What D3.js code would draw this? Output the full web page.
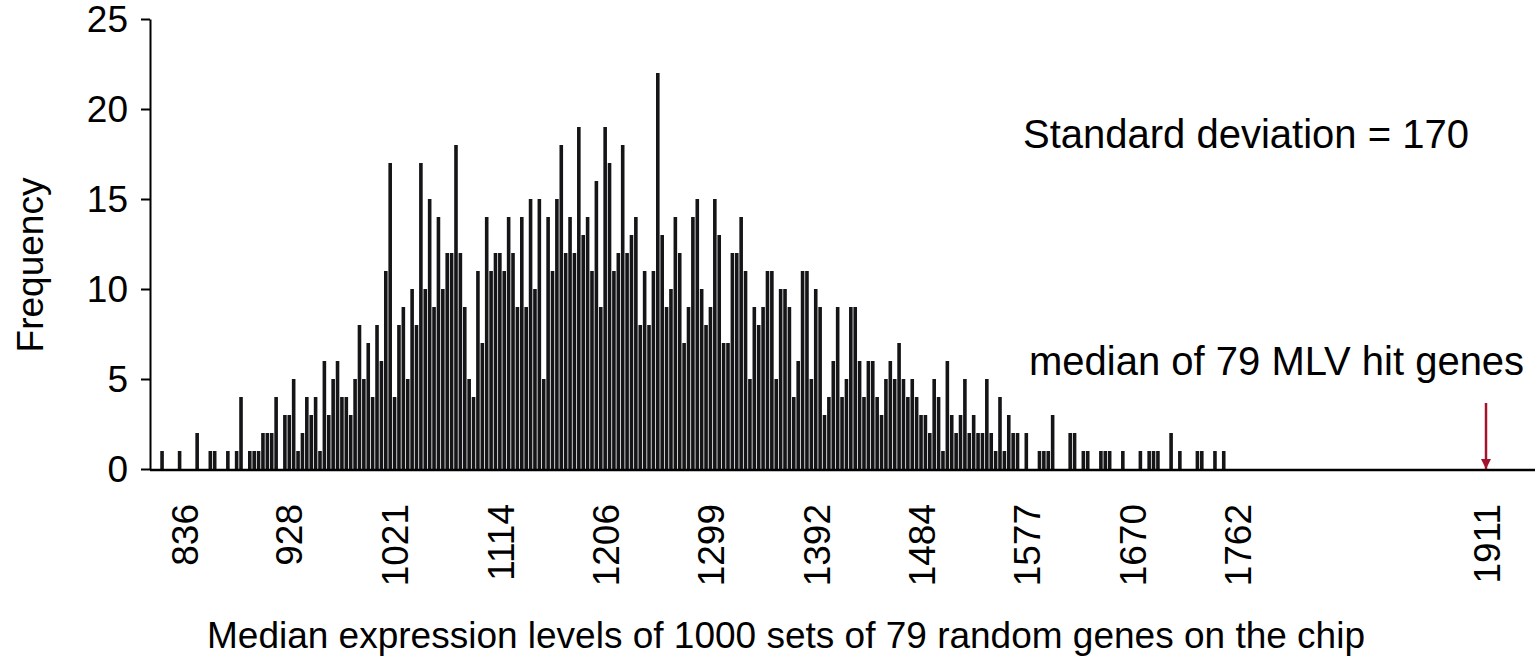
<!DOCTYPE html>
<html>
<head>
<meta charset="utf-8">
<script src="https://cdn.jsdelivr.net/npm/d3@7"></script>
<style>
  body { margin: 0; background: #fff; }
  svg text { font-family: "Liberation Sans", Arial, sans-serif; fill: #000; }
</style>
</head>
<body>
<div class="chart"></div>
<script>
// histogram counts, one per bin, left to right
var counts = [
  1,0,0,0,1,0,0,0,2,0,0,1,1,0,0,1,0,1,4,0,
  1,1,1,2,2,2,4,0,3,3,5,1,2,4,3,4,1,6,3,5,
  6,4,4,3,5,8,5,7,4,8,6,11,17,4,8,9,5,10,8,17,
  10,15,9,14,10,12,12,18,12,9,5,4,11,7,14,11,12,12,11,14,
  12,9,14,9,15,10,15,5,14,11,15,18,12,14,12,19,13,14,11,16,
  9,19,17,11,12,18,12,13,14,8,11,8,11,22,13,9,10,14,12,7,
  9,14,15,10,8,9,15,13,7,7,12,12,14,11,5,9,8,9,11,11,
  5,10,10,9,4,6,11,11,5,10,9,3,4,6,9,4,5,9,9,6,
  4,6,6,4,3,5,6,5,7,5,4,5,4,3,3,2,5,4,1,6,
  3,2,3,5,2,3,2,2,5,2,1,4,1,3,2,2,0,2,0,0,
  1,1,1,3,0,0,0,2,2,0,1,1,0,0,1,1,1,0,0,1,
  0,0,0,1,0,1,1,1,0,0,2,0,1,0,0,0,1,1,0,0,
  1,0,1
];
var binStart = 816.7;
var binWidth = 3.858;
var xTickLabels = [836, 928, 1021, 1114, 1206, 1299, 1392, 1484, 1577, 1670, 1762, 1911];
var yTickLabels = [0, 5, 10, 15, 20, 25];
var hitMedian = 1911;
var sdText = 'Standard deviation = 170';
var hitText = 'median of 79 MLV hit genes';
var xTitle = 'Median expression levels of 1000 sets of 79 random genes on the chip';
var yTitle = 'Frequency';

var margin = {top: 19, right: 0, bottom: 189, left: 150};
var width = 1535 - margin.left - margin.right;
var height = 658 - margin.top - margin.bottom;
var fontSize = 37;

var bins = counts.map(function(c, i) {
    return {value: binStart + i * binWidth, count: c};
});

// axis is stretched past 1762 in the original, so piecewise
var xScale = d3.scaleLinear()
    .domain([836, 1762, 1911])
    .range([34, 1087, 1336]);

var yScale = d3.scaleLinear()
    .domain([0, 25])
    .range([height, 0]);

var barWidth = (xScale(binStart + binWidth) - xScale(binStart)) * 0.82;

var svg = d3.select('.chart').append('svg')
    .attr('width', 1535)
    .attr('height', 658)
    .append('g')
    .attr('transform', `translate(${margin.left},${margin.top})`);

function drawBars(el) {
    el.append('g')
        .attr('class', 'bars-g')
        .selectAll('.bar')
        .data(bins.filter(d => d.count > 0))
        .enter().append('rect')
        .attr('class', 'bar')
        .attr('x', d => xScale(d.value) - barWidth / 2)
        .attr('y', d => yScale(d.count))
        .attr('width', barWidth)
        .attr('height', d => yScale(0) - yScale(d.count))
        .style('fill', '#151518');
}

function drawYAxis(el) {
    var axis = el.append('g')
        .attr('class', 'axis axis--y')
        .call(d3.axisLeft(yScale)
            .tickValues(yTickLabels)
            .tickSize(9)
            .tickSizeOuter(0)
            .tickPadding(13));
    axis.select('.domain').attr('stroke-width', 2);
    axis.selectAll('line').attr('stroke-width', 2);
    axis.selectAll('text')
        .style('font-size', fontSize + 'px')
        .attr('dy', '0.35em');
}

function drawXAxis(el) {
    el.append('line')
        .attr('x1', 0)
        .attr('x2', width)
        .attr('y1', height + 1)
        .attr('y2', height + 1)
        .attr('stroke', '#000')
        .attr('stroke-width', 2.5);

    var axis = el.append('g')
        .attr('class', 'axis axis--x')
        .attr('transform', `translate(0,${height})`)
        .call(d3.axisBottom(xScale)
            .tickValues(xTickLabels)
            .tickSize(0)
            .tickFormat(d3.format('d')));
    axis.select('.domain').remove();
    axis.selectAll('text')
        .style('font-size', fontSize + 'px')
        .attr('transform', 'rotate(-90)')
        .attr('text-anchor', 'end')
        .attr('x', -35)
        .attr('y', 0)
        .attr('dy', '0.36em');
}

function drawLabels(el) {
    el.append('text')
        .attr('transform', `translate(${30 - margin.left},${265 - margin.top}) rotate(-90)`)
        .attr('text-anchor', 'middle')
        .attr('dy', '0.36em')
        .style('font-size', fontSize + 'px')
        .text(yTitle);

    el.append('text')
        .attr('x', 786 - margin.left)
        .attr('y', 648 - margin.top)
        .attr('text-anchor', 'middle')
        .style('font-size', fontSize + 'px')
        .text(xTitle);

    el.append('text')
        .attr('x', 1023 - margin.left)
        .attr('y', 148 - margin.top)
        .style('font-size', '40px')
        .text(sdText);

    el.append('text')
        .attr('x', 1029 - margin.left)
        .attr('y', 375 - margin.top)
        .style('font-size', '40px')
        .text(hitText);
}

function drawArrow(el) {
    var red = '#a3142c';
    el.append('defs').append('marker')
        .attr('id', 'arrowhead')
        .attr('viewBox', '0 0 10 10')
        .attr('refX', 10)
        .attr('refY', 5)
        .attr('markerWidth', 4)
        .attr('markerHeight', 4)
        .attr('markerUnits', 'strokeWidth')
        .attr('orient', 'auto')
        .append('path')
        .attr('d', 'M0,0L10,5L0,10z')
        .attr('fill', red);

    el.append('line')
        .attr('x1', xScale(hitMedian))
        .attr('x2', xScale(hitMedian))
        .attr('y1', 403 - margin.top)
        .attr('y2', yScale(0))
        .attr('stroke', red)
        .attr('stroke-width', 2.5)
        .attr('marker-end', 'url(#arrowhead)');
}

drawBars(svg);
drawXAxis(svg);
drawYAxis(svg);
drawLabels(svg);
drawArrow(svg);
</script>
</body>
</html>
